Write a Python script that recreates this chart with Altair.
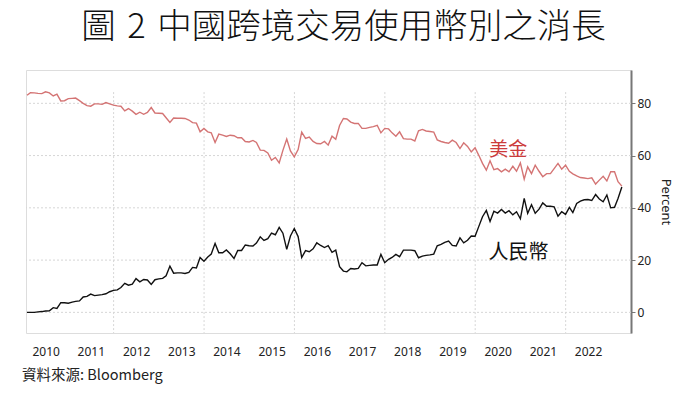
import altair as alt
import pandas as pd

# ---------------- data ----------------
usd = [83.1, 84.1, 84.0, 83.8, 83.7, 84.4, 84.0, 82.8, 83.5, 80.9, 81.0, 81.8,
       81.9, 82.0, 81.0, 80.0, 79.1, 78.9, 79.8, 79.8, 79.6, 80.3, 79.8, 79.3,
       79.0, 78.9, 77.1, 78.0, 77.0, 75.8, 76.6, 75.8, 76.5, 78.4, 76.3, 76.2,
       76.1, 74.5, 72.7, 74.4, 74.3, 74.3, 74.2, 73.6, 72.6, 72.4, 69.1, 70.4,
       69.1, 68.7, 65.0, 68.2, 67.8, 67.3, 67.8, 67.6, 66.8, 66.8, 65.4, 65.2,
       65.8, 65.0, 62.1, 62.0, 61.0, 58.2, 59.3, 57.2, 62.0, 66.3, 61.8, 59.5,
       62.3, 69.0, 66.6, 67.1, 65.4, 64.6, 64.5, 65.4, 64.0, 67.4, 66.2, 71.5,
       74.2, 74.0, 72.8, 72.3, 72.3, 70.4, 70.4, 70.8, 71.1, 71.6, 68.7, 70.4,
       70.2, 68.7, 67.4, 69.1, 66.5, 66.3, 66.3, 65.6, 69.5, 70.0, 69.4, 69.2,
       69.0, 66.0, 65.4, 65.0, 64.7, 65.9, 65.0, 62.7, 64.9, 63.5, 61.4, 63.0,
       60.0, 57.0, 54.4, 58.0, 54.6, 55.0, 53.8, 54.8, 53.8, 55.9, 54.0, 57.2,
       51.0, 55.7, 53.1, 56.3, 54.0, 51.9, 53.1, 53.1, 55.0, 57.0, 54.8, 56.3,
       54.0, 53.0, 52.2, 51.6, 51.4, 51.2, 51.5, 49.1, 50.6, 52.1, 50.3, 53.8,
       53.8, 50.0, 48.3]

rmb = [0.0, 0.0, 0.0, 0.2, 0.3, 0.5, 0.6, 1.8, 1.5, 3.7, 3.7, 3.5,
       3.9, 4.2, 4.4, 5.9, 6.1, 7.0, 6.4, 6.6, 6.8, 7.1, 7.9, 8.4,
       8.6, 9.5, 11.1, 10.4, 10.8, 12.9, 11.7, 12.6, 12.4, 10.7, 12.5, 12.8,
       13.0, 14.0, 17.7, 15.0, 15.1, 15.1, 14.9, 15.3, 17.2, 17.0, 21.0, 19.6,
       21.2, 22.3, 26.4, 22.8, 22.8, 23.9, 22.4, 20.6, 23.7, 23.7, 25.8, 25.5,
       25.4, 26.5, 28.9, 27.5, 28.2, 30.3, 29.7, 32.5, 30.3, 24.1, 29.2, 32.1,
       29.0, 21.0, 23.6, 23.2, 24.3, 26.6, 25.6, 24.8, 25.5, 23.0, 23.8, 17.5,
       15.8, 15.5, 16.8, 16.6, 16.8, 19.0, 17.8, 18.0, 18.1, 18.1, 22.2, 19.0,
       20.3, 21.0, 22.2, 21.3, 23.8, 23.8, 23.8, 23.6, 20.9, 21.5, 21.8, 22.0,
       22.3, 25.5, 26.0, 26.8, 27.3, 25.6, 25.4, 28.5, 26.6, 27.6, 29.2, 29.1,
       33.0, 36.6, 39.0, 34.8, 38.7, 38.0, 39.4, 38.0, 38.9, 37.3, 38.5, 35.8,
       43.6, 37.9, 41.2, 37.9, 39.5, 41.9, 40.6, 40.6, 40.4, 36.8, 38.5, 37.5,
       40.2, 38.2, 41.7, 42.6, 43.1, 43.2, 42.8, 45.1, 43.4, 42.3, 44.9, 40.0,
       40.2, 43.6, 48.0]

series_names = ["美金", "人民幣"]
series_colors = ["#d47474", "#111111"]

year_labels = list(range(2010, 2023))
grid_years = [2012, 2014, 2016, 2018, 2020, 2022]
y_ticks = [0, 10, 20, 30, 40, 50, 60, 70, 80, 90]
h_grid = [0, 20, 40, 60, 80]

label_text = ["美金", "人民幣"]
label_dates = ["2020-09-25T00:00:00", "2020-12-15T00:00:00"]
label_values = [62.1, 22.7]
label_colors = ["#cc3b3b", "#111111"]
label_sizes = [19, 20]

title_text = "圖\u20042\u2004中國跨境交易使用幣別之消長"

# ---------------- tables ----------------
dates = pd.date_range("2010-01-01", periods=len(usd), freq="MS") + pd.offsets.MonthEnd(0)
date_str = [d.strftime("%Y-%m-%dT00:00:00") for d in dates]

df = pd.DataFrame({
    "date": date_str * 2,
    "value": usd + rmb,
    "series": [series_names[0]] * len(usd) + [series_names[1]] * len(rmb),
})
vgrid_df = pd.DataFrame({"date": [f"{y}-01-01T00:00:00" for y in grid_years]})
hgrid_df = pd.DataFrame({"v": h_grid})
labels_df = pd.DataFrame({
    "text": label_text, "date": label_dates, "value": label_values,
    "color": label_colors, "size": label_sizes,
})

Y_MIN, Y_MAX = -7.9, 92.75
GRID_TOP = 84.3

x_scale = alt.Scale(domain=[alt.DateTime(year=2010, month=1, date=23),
                            alt.DateTime(year=2023, month=6, date=13)])
y_scale = alt.Scale(domain=[Y_MIN, Y_MAX], nice=False, zero=False)

x_axis = alt.Axis(
    values=[alt.DateTime(year=y, month=7, date=1) for y in year_labels],
    format="%Y", ticks=False, domain=False, grid=False,
    labelFont="Noto Sans", labelFontSize=12, labelColor="#222",
    labelPadding=13,
    title="資料來源: Bloomberg", titleFont="Noto Sans CJK TC",
    titleFontSize=14.5, titleFontWeight="normal", titleColor="#222",
    titleAnchor="start", titleAlign="left", titleBaseline="middle",
    titleX=-4.5, titleY=42,
)

y_axis = alt.Axis(
    orient="right", values=y_ticks,
    labelExpr="datum.value % 20 == 0 ? datum.label : ''",
    grid=False, domainColor="#777", domainWidth=2,
    tickColor="#777", tickSize=4, tickWidth=1,
    labelFont="Noto Sans", labelFontSize=12, labelColor="#222", labelPadding=2,
    title="Percent", titleAngle=90, titleFont="Noto Sans", titleFontSize=13,
    titleFontWeight="normal", titleColor="#222", titlePadding=8,
)

vgrid = alt.Chart(vgrid_df).mark_rule(
    color="#d6d6d6", strokeWidth=1, strokeDash=[2, 2]
).encode(
    x=alt.X("date:T", scale=x_scale, axis=x_axis),
    y=alt.datum(GRID_TOP, scale=y_scale, axis=y_axis),
    y2=alt.datum(Y_MIN),
)

hgrid = alt.Chart(hgrid_df).mark_rule(
    color="#d6d6d6", strokeWidth=1, strokeDash=[2, 2]
).encode(y=alt.Y("v:Q", scale=y_scale))

lines = alt.Chart(df).mark_line(strokeWidth=1.4).encode(
    x=alt.X("date:T", scale=x_scale),
    y=alt.Y("value:Q", scale=y_scale),
    color=alt.Color("series:N", scale=alt.Scale(domain=series_names, range=series_colors), legend=None),
    detail="series:N",
)

labels = alt.Chart(labels_df).mark_text(
    font="Noto Sans CJK TC", align="center", baseline="middle"
).encode(
    x=alt.X("date:T", scale=x_scale),
    y=alt.Y("value:Q", scale=y_scale),
    text="text:N",
    color=alt.Color("color:N", scale=None),
    size=alt.Size("size:Q", scale=None),
)

chart = alt.layer(vgrid, hgrid, lines, labels).properties(
    width=605, height=263,
    title=alt.TitleParams(
        text=title_text,
        font="Noto Sans CJK TC", fontSize=34.5, fontWeight=300,
        color="#111", anchor="middle", frame="group", offset=25, dx=15,
    ),
    autosize=alt.AutoSizeParams(type="none"),
    padding={"left": 18, "top": 62, "right": 60, "bottom": 52},
).configure_view(stroke=None).configure(background="white")

chart.save("out.html", embed_options={"renderer": "svg", "actions": False})
